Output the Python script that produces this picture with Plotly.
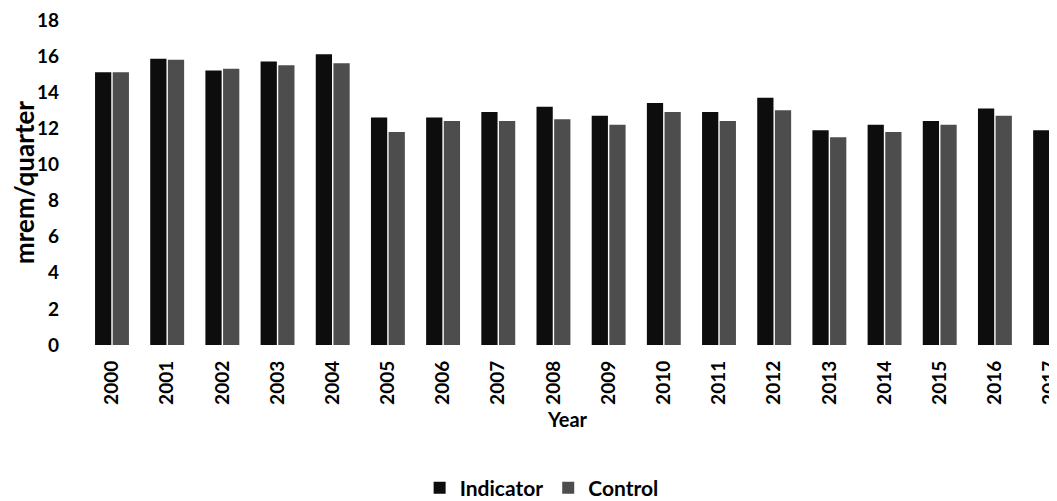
import plotly.graph_objects as go

years = [str(y) for y in range(2000, 2018)]
indicator = [15.1, 15.85, 15.2, 15.7, 16.1, 12.6, 12.6, 12.9, 13.2, 12.7, 13.4, 12.9, 13.7, 11.9, 12.2, 12.4, 13.1, 11.9]
control = [15.1, 15.8, 15.3, 15.5, 15.6, 11.8, 12.4, 12.4, 12.5, 12.2, 12.9, 12.4, 13.0, 11.5, 11.8, 12.2, 12.7, 11.3]
y_ticks = list(range(0, 19, 2))

font_family = "Lato, Open Sans, sans-serif"

fig = go.Figure()
fig.add_trace(go.Bar(x=years, y=indicator, name="Indicator", marker=dict(color="#0d0d0d", line=dict(width=0))))
fig.add_trace(go.Bar(x=years, y=control, name="Control", marker=dict(color="#4d4d4d", line=dict(width=0))))

fig.update_layout(
    width=1057, height=501,
    margin=dict(l=62, r=0, t=12, b=162),
    paper_bgcolor="white", plot_bgcolor="white",
    barmode="group", bargap=0.36, bargroupgap=0.08,
    font=dict(family=font_family, color="black", size=18),
    showlegend=True,
    legend=dict(orientation="h", x=0.474, y=-0.44, xanchor="center", yanchor="middle",
                font=dict(size=21, family=font_family, weight="bold"), itemwidth=30),
    xaxis=dict(
        type="category", range=[-0.761, 17.27], automargin=False,
        tickangle=-90, showgrid=False, showline=False, ticks="",
        tickfont=dict(size=19, family=font_family, weight="bold"),
        ticklabelstandoff=11, ticklabeloverflow="allow",
        title=dict(text="Year", font=dict(size=20, family=font_family, weight="bold"), standoff=9),
    ),
    yaxis=dict(
        range=[0, 18], tickvals=y_ticks, showgrid=False, showline=False, zeroline=False, ticks="",
        automargin=False, ticklabeloverflow="allow",
        tickfont=dict(size=19, family=font_family, weight="bold"),
        ticklabelstandoff=10,
        title=dict(text="mrem/quarter", font=dict(size=26, family=font_family, weight="bold"), standoff=3),
    ),
)

fig.write_html("out.html")
